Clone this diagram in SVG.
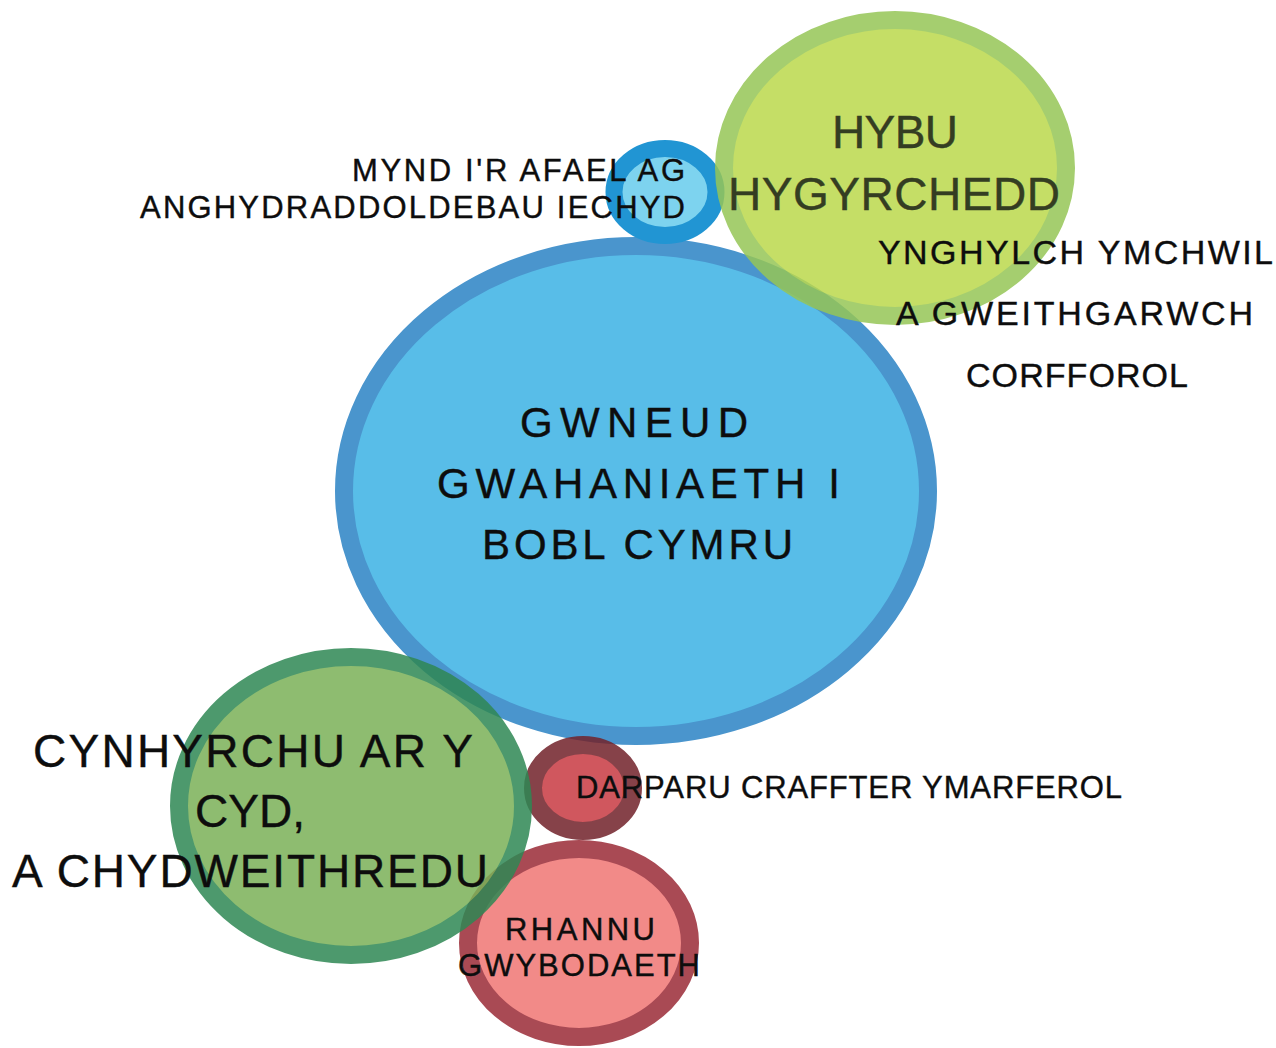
<svg xmlns="http://www.w3.org/2000/svg" width="1276" height="1048" viewBox="0 0 1276 1048">
<style>
text{font-family:"Liberation Sans","Arial",sans-serif;fill:#0d0d0d;stroke:#0d0d0d;stroke-width:0.4;}
.c{text-anchor:middle;}
.e{text-anchor:end;}
.olive{fill:#343d22;stroke:#343d22;}
.ring{stroke-width:18;}
.t{opacity:0.85;}
</style>
<rect width="1276" height="1048" fill="#ffffff"/>
<g id="node-gwneud">
<ellipse class="ring" cx="636" cy="491" rx="292" ry="245" fill="#58bde8" stroke="#4a95cd"/>
</g>
<g id="node-mynd">
<ellipse cx="665" cy="192" rx="51" ry="43.5" fill="#7dd3ef" stroke="#2195d3" stroke-width="17"/>
</g>
<g id="node-rhannu">
<ellipse class="ring t" cx="579" cy="943" rx="111" ry="94" fill="#f07674" stroke="#9b2b37"/>
</g>
<g id="node-darparu">
<ellipse class="ring t" cx="583" cy="788" rx="50" ry="43" fill="#c83a42" stroke="#72222a"/>
</g>
<g id="node-cynhyrchu">
<ellipse class="ring t" cx="351" cy="806" rx="172" ry="149" fill="#7bb158" stroke="#2f8854"/>
</g>
<g id="node-hybu">
<ellipse class="ring t" cx="895" cy="168" rx="171" ry="148" fill="#bcd94c" stroke="#96c657"/>
</g>
<g id="connectors"></g>
<g id="labels">
<text class="e" x="685" y="181" font-size="31" textLength="333" lengthAdjust="spacing">MYND I'R AFAEL AG</text>
<text class="e" x="685" y="218" font-size="31" textLength="545" lengthAdjust="spacing">ANGHYDRADDOLDEBAU IECHYD</text>
<text class="c olive" x="895" y="148" font-size="46" textLength="126" lengthAdjust="spacing">HYBU</text>
<text class="c olive" x="894" y="210" font-size="46" textLength="332" lengthAdjust="spacing">HYGYRCHEDD</text>
<text class="c" x="1075.5" y="264" font-size="34" textLength="395" lengthAdjust="spacing">YNGHYLCH YMCHWIL</text>
<text class="c" x="1074.5" y="325" font-size="34" textLength="357" lengthAdjust="spacing">A GWEITHGARWCH</text>
<text class="c" x="1077" y="387" font-size="34" textLength="222" lengthAdjust="spacing">CORFFOROL</text>
<text class="c" x="634" y="437" font-size="42" textLength="228" lengthAdjust="spacing">GWNEUD</text>
<text class="c" x="638.5" y="498" font-size="42" textLength="403" lengthAdjust="spacing">GWAHANIAETH I</text>
<text class="c" x="637.5" y="559" font-size="42" textLength="311" lengthAdjust="spacing">BOBL CYMRU</text>
<text class="c" x="253" y="767" font-size="46" textLength="440" lengthAdjust="spacing">CYNHYRCHU AR Y</text>
<text class="c" x="250" y="827" font-size="46" textLength="110" lengthAdjust="spacing">CYD,</text>
<text class="c" x="250" y="887" font-size="46" textLength="476" lengthAdjust="spacing">A CHYDWEITHREDU</text>
<text x="576" y="798" font-size="31" textLength="546" lengthAdjust="spacing">DARPARU CRAFFTER YMARFEROL</text>
<text class="c" x="580" y="940" font-size="31" textLength="150" lengthAdjust="spacing">RHANNU</text>
<text class="c" x="579" y="976" font-size="31" textLength="242" lengthAdjust="spacing">GWYBODAETH</text>
</g>
</svg>
